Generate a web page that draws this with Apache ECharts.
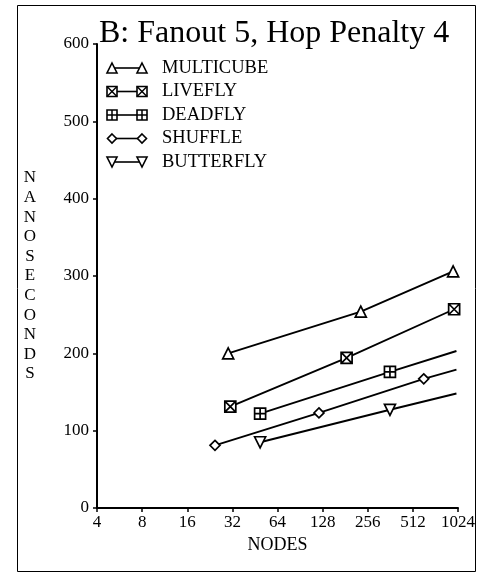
<!DOCTYPE html>
<html>
<head>
<meta charset="utf-8">
<script src="https://cdn.jsdelivr.net/npm/echarts@6/dist/echarts.min.js"></script>
<style>
  html, body { margin: 0; padding: 0; background: #fff; }
  #chart { width: 484px; height: 576px; }
</style>
</head>
<body>
<div id="chart"></div>
<script>
// Network latency vs. machine size, fanout 5, hop penalty 4
const titleText = 'B: Fanout 5, Hop Penalty 4';
const xTicks = [4, 8, 16, 32, 64, 128, 256, 512, 1024];
const seriesNames = ['MULTICUBE', 'LIVEFLY', 'DEADFLY', 'SHUFFLE', 'BUTTERFLY'];

// [nodes, nanoseconds]
const multicube = [[30, 200], [230, 254], [950, 306]];
const livefly   = [[31, 131], [185, 194], [965, 257]];
const deadfly   = [[49, 122], [360, 176], [1000, 203]];
const shuffle   = [[24.5, 81], [121, 123], [605, 167], [1000, 179]];
const butterfly = [[49, 85], [360, 127], [1000, 148]];

// index of the trailing point drawn as a bare line end (no marker)
const openEnd = { DEADFLY: 2, SHUFFLE: 3, BUTTERFLY: 2 };

// marker geometry in a 10x10 box: closed outline plus inner strokes
const outlines = {
  MULTICUBE: [[5, 0], [10, 10], [0, 10]],
  LIVEFLY:   [[0, 0], [10, 0], [10, 10], [0, 10]],
  DEADFLY:   [[0, 0], [10, 0], [10, 10], [0, 10]],
  SHUFFLE:   [[5, 0], [10, 5], [5, 10], [0, 5]],
  BUTTERFLY: [[0, 0], [10, 0], [5, 10]]
};
const innerStrokes = {
  LIVEFLY: [[[0, 0], [10, 10]], [[10, 0], [0, 10]]],
  DEADFLY: [[[5, 0], [5, 10]], [[0, 5], [10, 5]]]
};

function pathFor(name) {
  let d = 'M' + outlines[name].map(p => p.join(',')).join('L') + 'Z';
  (innerStrokes[name] || []).forEach(seg => {
    d += ' M' + seg[0].join(',') + 'L' + seg[1].join(',');
  });
  return 'path://' + d;
}

const seriesData = {
  MULTICUBE: multicube, LIVEFLY: livefly, DEADFLY: deadfly,
  SHUFFLE: shuffle, BUTTERFLY: butterfly
};

const serif = '"Liberation Serif", "DejaVu Serif", serif';

const series = seriesNames.map(name => ({
  name,
  type: 'line',
  data: seriesData[name].map((p, i) =>
    openEnd[name] === i ? { value: p, symbol: 'none' } : { value: p }),
  symbol: pathFor(name),
  symbolSize: name === 'SHUFFLE' ? 10 : 11,
  itemStyle: { color: '#fff', borderColor: '#000', borderWidth: 1.7 },
  lineStyle: { color: '#000', width: 1.9 },
  emphasis: { disabled: true },
  silent: true,
  z: 3
}));

// key: marker, rule, marker, label
const legendTop = 68, legendStep = 23.5;
const legendGraphics = [];
seriesNames.forEach((name, i) => {
  const cy = legendTop + i * legendStep;
  legendGraphics.push({
    type: 'line',
    shape: { x1: 112, y1: cy, x2: 142, y2: cy },
    style: { stroke: '#000', lineWidth: 1.6 }
  });
  [112, 142].forEach(cx => {
    const size = name === 'SHUFFLE' ? 9 : 10;
    const k = size / 10;
    const pt = p => [cx - size / 2 + p[0] * k, cy - size / 2 + p[1] * k];
    legendGraphics.push({
      type: 'polygon',
      shape: { points: outlines[name].map(pt) },
      style: { fill: '#fff', stroke: '#000', lineWidth: 1.6 },
      z: 10
    });
    (innerStrokes[name] || []).forEach(seg => {
      const a = pt(seg[0]), b = pt(seg[1]);
      legendGraphics.push({
        type: 'line',
        shape: { x1: a[0], y1: a[1], x2: b[0], y2: b[1] },
        style: { stroke: '#000', lineWidth: 1.5 },
        z: 11
      });
    });
  });
  legendGraphics.push({
    type: 'text',
    x: 162, y: cy,
    style: {
      text: name, fill: '#000', font: '18.5px ' + serif,
      verticalAlign: 'middle', align: 'left'
    }
  });
});

const chart = echarts.init(document.getElementById('chart'), null, { renderer: 'canvas' });
chart.setOption({
  animation: false,
  backgroundColor: '#fff',
  title: {
    text: titleText,
    left: 94, top: 13,
    textStyle: { fontFamily: serif, fontSize: 32, fontWeight: 'normal', color: '#000' }
  },
  grid: { left: 97, right: 26, top: 44, bottom: 68 },
  xAxis: {
    type: 'log',
    logBase: 2,
    min: xTicks[0],
    max: xTicks[xTicks.length - 1],
    interval: 1,
    name: 'NODES',
    nameLocation: 'middle',
    nameGap: 27,
    nameTextStyle: { fontFamily: serif, fontSize: 18, color: '#000' },
    axisLine: { lineStyle: { color: '#000', width: 2 } },
    axisTick: { show: true, length: 4, lineStyle: { color: '#000', width: 1.5 } },
    axisLabel: {
      fontFamily: serif, fontSize: 17, color: '#000', margin: 6,
      formatter: v => String(Math.round(v))
    },
    splitLine: { show: false },
    minorTick: { show: false }
  },
  yAxis: {
    type: 'value',
    min: 0, max: 600, interval: 100,
    name: 'NANOSECONDS'.split('').join('\n'),
    nameLocation: 'middle',
    nameRotate: 0,
    nameGap: 67,
    nameTextStyle: {
      fontFamily: serif, fontSize: 17, color: '#000',
      lineHeight: 19.6, align: 'center', verticalAlign: 'middle'
    },
    axisLine: { show: true, lineStyle: { color: '#000', width: 2 } },
    axisTick: { show: true, length: 4, lineStyle: { color: '#000', width: 1.5 } },
    axisLabel: { fontFamily: serif, fontSize: 17, color: '#000', margin: 8 },
    splitLine: { show: false }
  },
  graphic: [
    {
      type: 'rect',
      shape: { x: 17.5, y: 5.5, width: 458, height: 566 },
      style: { fill: 'none', stroke: '#000', lineWidth: 1 },
      silent: true
    }
  ].concat(legendGraphics),
  series
});
</script>
</body>
</html>
